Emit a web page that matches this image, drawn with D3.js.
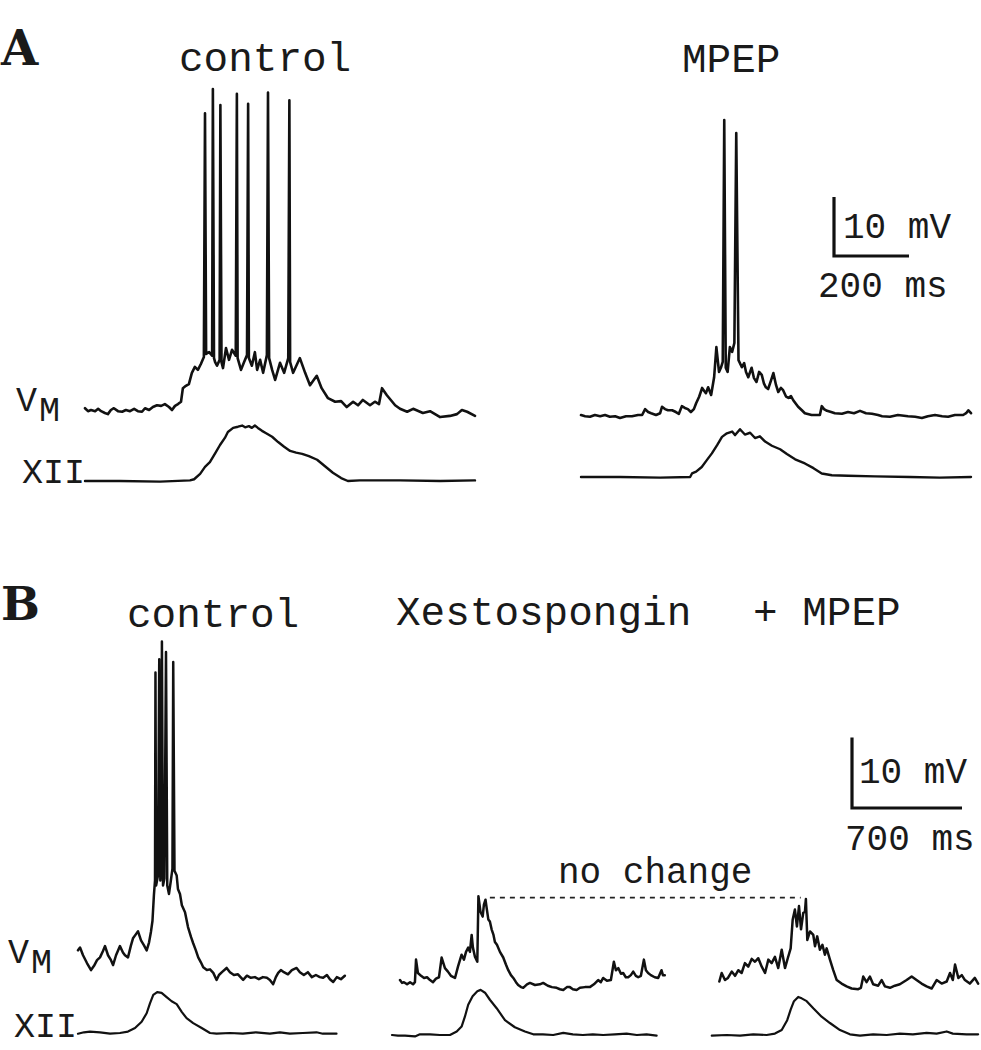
<!DOCTYPE html>
<html><head><meta charset="utf-8">
<script src="https://cdn.jsdelivr.net/npm/d3@7"></script>
<style>
body{margin:0;background:#fff}
svg{display:block}
text{font-family:"Liberation Mono","Courier New",monospace;fill:#1a1a1a}
text.panel{font-family:"DejaVu Serif","Liberation Serif",serif}
</style>
</head><body>
<svg id="c" width="981" height="1050"></svg>
<script>
// ---------- DATA: [time ms, value mV (Vm) or a.u. (XII)] ----------
const aCtrlVm = [[0,0.3],[8,-0.2],[16,0],[27,-0.2],[35,0.2],[43,-0.2],[53,-0.5],[61,-0.7],[69,0],[77,0.3],[88,-0.2],[99,-0.3],[109,0],[120,-0.2],[131,0.2],[141,-0.2],[152,-0.3],[160,0.3],[171,0],[181,0.5],[192,0.8],[203,0.7],[213,1.0],[224,0.5],[232,0],[240,0.7],[248,1.0],[256,1.4],[261,3.7],[269,4.1],[277,4.4],[285,6.3],[293,7.3],[301,6.8],[309,7.8],[317,9.0],[320,50.3],[323,9.5],[331,9.8],[339,9.2],[341,54.4],[344,8.8],[347,8.1],[352,7.5],[359,8.5],[361,51.7],[364,8.1],[368,7.1],[376,10.5],[384,8.5],[392,10.2],[402,9.2],[405,53.6],[407,8.8],[416,6.8],[424,8.1],[432,9.3],[435,51.9],[437,8.8],[445,7.5],[453,9.8],[459,6.8],[467,8.5],[475,6.3],[485,9.3],[488,53.8],[491,8.8],[499,6.8],[507,5.1],[520,8.0],[531,6.3],[542,8.8],[545,52.5],[547,8.1],[555,6.3],[573,8.8],[587,6.3],[600,4.2],[618,5.8],[631,3.7],[648,2.0],[667,1.4],[683,1.5],[698,0.5],[715,1.4],[728,0.8],[741,1.7],[760,0.8],[773,1.4],[784,1.0],[792,3.7],[805,2.5],[827,0.8],[840,0.2],[859,-0.3],[875,0.2],[901,-0.5],[920,-0.2],[947,-1.2],[973,-1.0],[992,-0.7],[1005,0],[1019,-0.3],[1040,-1.0]];
const aCtrlXII = [[0,0],[93,0],[200,-0.1],[280,0.1],[291,0.3],[307,1.2],[320,2.4],[333,3.2],[347,4.7],[360,6.1],[373,7.3],[381,8.3],[395,9.0],[408,9.2],[419,9.4],[427,9.1],[437,9.3],[445,9.0],[453,9.4],[461,9.0],[472,8.5],[483,8.1],[499,7.5],[515,6.6],[531,5.8],[547,5.1],[563,4.8],[579,4.6],[597,4.2],[619,3.6],[640,2.5],[661,1.4],[683,0.5],[701,0],[733,0.1],[840,0.1],[947,0],[1040,0.1]];
const aMpepVm = [[0,0],[11,-0.2],[24,-0.3],[37,0],[51,-0.2],[64,0],[77,-0.3],[91,-0.2],[104,-0.5],[120,-0.2],[136,-0.2],[152,0],[163,0],[171,1.0],[179,0.5],[187,0.3],[200,0],[211,0.3],[216,1.4],[224,1.0],[232,0.8],[243,0.8],[253,0.5],[261,0.2],[269,1.5],[277,1.2],[285,1.0],[293,0.5],[301,1.0],[307,2.0],[315,3.1],[323,4.6],[328,4.1],[333,3.7],[339,4.7],[347,3.4],[355,6.4],[361,11.5],[368,7.3],[373,8.0],[378,9.0],[382,50.0],[386,8.0],[391,7.3],[397,11.5],[403,10.7],[409,12.2],[414,47.8],[420,9.3],[429,8.1],[435,8.8],[440,7.3],[446,6.4],[455,8.0],[461,6.3],[468,5.6],[475,7.3],[482,6.8],[488,5.3],[493,4.7],[499,4.4],[507,5.9],[513,7.1],[520,5.1],[526,3.9],[533,4.6],[539,4.2],[547,3.1],[553,2.9],[560,3.2],[566,2.5],[573,1.9],[579,1.4],[589,0.8],[597,0.3],[615,0],[627,0],[637,0],[642,1.5],[648,1.0],[656,0.7],[667,0.5],[677,0.3],[696,0.2],[712,0.5],[728,0.3],[744,0.7],[760,0.3],[776,0.2],[792,0],[803,-0.2],[824,-0.3],[845,0],[872,-0.2],[891,-0.3],[909,-0.5],[925,-0.2],[944,0],[963,-0.2],[979,-0.3],[997,0],[1019,0],[1027,0.3],[1033,0.8],[1040,0.3]];
const aMpepXII = [[0,0],[104,0],[211,-0.1],[291,0],[296,0.6],[307,0.9],[322,1.7],[336,2.9],[349,4.0],[363,5.4],[376,6.8],[389,7.4],[403,7.7],[411,7.1],[424,8.1],[437,7.2],[451,7.5],[464,6.6],[477,6.9],[491,6.0],[509,5.3],[531,4.7],[549,3.9],[571,3.0],[597,2.3],[620,1.5],[642,0.6],[669,0.3],[712,0.2],[784,0.1],[877,0],[957,-0.1],[1040,0]];

const bCtrlVm = [[0,3.5],[13,3.9],[32,2.8],[57,1.7],[83,0.7],[102,1.3],[121,2.1],[140,2.5],[159,3.4],[172,4.1],[191,2.8],[210,2.1],[223,1.4],[242,2.8],[267,4.1],[286,3.2],[299,2.8],[318,2.5],[337,4.2],[350,5.2],[369,5.8],[382,6.2],[401,4.9],[420,4.2],[437,3.5],[452,4.6],[464,6.1],[474,7.7],[483,11.3],[490,13.4],[493,42.9],[497,12.7],[509,14.1],[517,44.8],[524,13.4],[529,14.8],[534,47.3],[541,12.7],[550,13.7],[560,45.8],[568,12.7],[579,11.5],[591,13.4],[601,15.1],[606,44.4],[614,14.8],[628,14.1],[636,12.2],[649,11.5],[661,9.9],[681,8.9],[700,6.8],[719,5.4],[733,4.5],[750,3.5],[765,2.5],[782,1.8],[797,1.1],[820,0.7],[840,0.8],[861,0.3],[882,-0.7],[897,0],[916,0.4],[946,1.0],[967,0.4],[992,0],[1018,0.1],[1051,-0.7],[1075,-0.1],[1100,-0.4],[1126,-0.3],[1151,-0.6],[1177,-0.3],[1202,-0.4],[1221,-0.7],[1242,-1.3],[1259,-0.3],[1274,0.3],[1291,0.7],[1310,0.4],[1336,0.1],[1361,0.7],[1391,1.0],[1412,0.4],[1437,0],[1463,0.4],[1488,-0.3],[1514,0],[1539,-0.3],[1560,-0.4],[1584,0],[1603,-0.6],[1624,-1.0],[1647,-0.3],[1673,-0.6],[1698,-0.1]];
const bCtrlXII = [[0,-0.1],[38,0.1],[76,0.2],[140,0.1],[204,-0.1],[267,0],[318,0.2],[363,0.7],[405,1.6],[437,2.8],[458,4.2],[479,5.4],[504,5.8],[532,5.7],[564,5.1],[596,4.5],[628,4.1],[660,3.0],[691,2.1],[733,1.4],[787,0.7],[840,0],[882,-0.1],[967,0],[1049,-0.1],[1132,0.1],[1221,-0.1],[1285,0.1],[1348,-0.1],[1431,0],[1518,0.1],[1558,-0.1],[1645,-0.1]];
const bXestoVm = [[0,0.7],[13,0.3],[25,0.4],[45,0.1],[64,0.4],[83,0.1],[95,0.4],[102,3.6],[114,1.7],[134,1.3],[153,1.0],[172,1.1],[191,0.7],[210,0.4],[229,0.9],[248,1.1],[265,3.9],[286,2.4],[305,1.9],[324,1.3],[350,1.0],[369,2.6],[392,4.3],[407,3.6],[420,4.7],[434,5.3],[445,4.7],[456,7.1],[464,5.3],[477,4.0],[492,3.3],[499,12.6],[512,10.4],[526,9.7],[534,11.4],[544,12.1],[553,10.7],[562,9.3],[572,9.0],[583,7.9],[595,7.1],[604,6.1],[617,5.7],[636,4.7],[657,3.9],[674,2.9],[689,2.1],[706,1.4],[721,1.0],[738,0.4],[752,0],[770,-0.3],[784,-0.4],[808,0.1],[827,0.3],[859,0],[890,0.1],[911,0.3],[941,-0.1],[967,-0.3],[997,-0.4],[1018,-0.6],[1039,-0.7],[1062,-0.3],[1081,-0.3],[1100,-0.6],[1124,-0.7],[1145,-0.4],[1177,-0.3],[1208,-0.3],[1234,0.1],[1261,0.7],[1278,0.4],[1293,1.0],[1317,0.6],[1342,0.7],[1361,3.3],[1374,2.1],[1389,2.4],[1406,1.6],[1420,1.7],[1437,1.1],[1452,1.1],[1469,1.4],[1484,1.9],[1501,1.3],[1516,1.1],[1533,1.3],[1552,3.6],[1565,2.1],[1579,1.7],[1596,1.4],[1621,1.1],[1643,1.0],[1664,2.1],[1673,1.4],[1685,1.4]];
const bXestoXII = [[-51,0],[-13,-0.1],[32,-0.1],[95,-0.2],[127,0.1],[191,0.1],[254,0],[318,0],[361,0.5],[392,1.2],[413,2.6],[434,4.3],[462,5.5],[492,6.2],[513,6.4],[541,6.0],[572,5.0],[615,3.8],[668,2.1],[731,1.1],[795,0.5],[848,0.1],[909,0.1],[975,0],[1039,0.3],[1100,0.1],[1164,0],[1227,0.1],[1293,0],[1367,0.1],[1442,0.2],[1507,0],[1569,0.1],[1633,-0.1]];
const bMpepVm = [[2,0.5],[17,1.7],[38,0.7],[57,1.0],[81,1.9],[102,1.3],[123,2.1],[144,1.7],[165,3.1],[186,2.6],[208,3.7],[229,3.3],[250,3.8],[272,2.6],[293,1.7],[314,3.6],[335,3.1],[356,4.0],[377,2.4],[399,5.0],[420,2.4],[439,3.9],[456,5.2],[469,9.3],[483,10.7],[496,8.3],[509,11.2],[522,7.9],[536,10.2],[547,10.4],[553,12.2],[562,6.4],[579,7.6],[600,7.1],[611,5.5],[625,6.9],[642,5.0],[658,5.7],[674,4.3],[685,5.2],[706,3.6],[727,2.1],[749,0.7],[780,0.2],[812,-0.2],[844,-0.5],[886,-0.6],[903,-0.4],[918,1.2],[939,0.4],[960,1.2],[981,0.1],[1013,-0.1],[1035,0.7],[1056,-0.2],[1088,-0.4],[1119,-0.1],[1151,0.1],[1194,0.7],[1226,1.2],[1257,0.7],[1289,0.2],[1321,-0.2],[1353,-0.5],[1385,0.7],[1417,0.2],[1449,0.5],[1470,1.7],[1488,0.7],[1502,2.9],[1523,1.0],[1545,1.4],[1565,0.7],[1596,0.2],[1628,1.0],[1649,0.2]];
const bMpepXII = [[-46,-0.1],[49,0],[134,-0.1],[218,0.1],[303,0],[356,0.2],[399,0.7],[434,2.1],[456,3.6],[477,4.8],[504,5.4],[526,5.2],[558,4.8],[600,3.8],[653,2.6],[706,1.7],[770,0.7],[833,0.1],[897,-0.1],[981,0.1],[1067,0],[1151,0.2],[1234,0.1],[1321,0.3],[1385,0.2],[1449,0.5],[1488,0.2],[1575,0.1],[1649,0.1]];

const titlesA = ["control", "MPEP"];
const titlesB = ["control", "Xestospongin", "+ MPEP"];
const scaleA = {mv: 10, ms: 200, mvLabel: "10 mV", msLabel: "200 ms"};
const scaleB = {mv: 10, ms: 700, mvLabel: "10 mV", msLabel: "700 ms"};
const noChange = {label: "no change", level: 12.4, tLeft: 572, tRight: 520};

// ---------- DRAWING ----------
const svg = d3.select("#c");
const INK = "#111";

function scales(x0, yBase, sb, pxMs, pxMv) {
  const x = d3.scaleLinear().domain([0, sb.ms]).range([x0, x0 + pxMs]);
  const y = d3.scaleLinear().domain([0, sb.mv]).range([yBase, yBase - pxMv]);
  return {x, y};
}
function trace(data, s, w) {
  const line = d3.line().x(d => s.x(d[0])).y(d => s.y(d[1]));
  svg.append("path").datum(data).attr("d", line)
    .attr("fill", "none").attr("stroke", INK).attr("stroke-width", w)
    .attr("stroke-linejoin", "round").attr("stroke-linecap", "round");
}
function scaleBar(s, sb, w) {
  const pts = [[0, sb.mv], [0, 0], [sb.ms, 0]];
  svg.append("path").datum(pts)
    .attr("d", d3.line().x(d => s.x(d[0])).y(d => s.y(d[1])))
    .attr("fill", "none").attr("stroke", INK).attr("stroke-width", w);
}
function txt(x, y, t, size, weight, cls) {
  return svg.append("text").attr("x", x).attr("y", y).attr("font-size", size)
    .attr("font-weight", weight || "normal").attr("class", cls || null).text(t);
}

// Panel A (200 ms = 75 px, 10 mV = 59 px)
const A_MS = 75, A_MV = 59;
trace(aCtrlVm, scales(85, 410, scaleA, A_MS, A_MV), 2.6);
trace(aCtrlXII, scales(85, 481, scaleA, A_MS, A_MV), 2.4);
trace(aMpepVm, scales(581, 415, scaleA, A_MS, A_MV), 2.6);
trace(aMpepXII, scales(581, 477, scaleA, A_MS, A_MV), 2.4);
scaleBar(scales(834, 256, scaleA, A_MS, A_MV), scaleA, 3.2);

// Panel B (700 ms = 110 px, 10 mV = 70.5 px)
const B_MS = 110, B_MV = 70.5;
trace(bCtrlVm, scales(78, 975, scaleB, B_MS, B_MV), 2.5);
trace(bCtrlXII, scales(78, 1033, scaleB, B_MS, B_MV), 2.2);
const sXL = scales(400, 985, scaleB, B_MS, B_MV);
const sXR = scales(719, 985, scaleB, B_MS, B_MV);
trace(bXestoVm, sXL, 2.5);
trace(bXestoXII, scales(400, 1035, scaleB, B_MS, B_MV), 2.2);
trace(bMpepVm, sXR, 2.5);
trace(bMpepXII, scales(719, 1035, scaleB, B_MS, B_MV), 2.2);
scaleBar(scales(852, 808, scaleB, B_MS, B_MV), scaleB, 3.2);

// "no change" dashed line
svg.append("line")
  .attr("x1", sXL.x(noChange.tLeft)).attr("x2", sXR.x(noChange.tRight))
  .attr("y1", sXL.y(noChange.level)).attr("y2", sXL.y(noChange.level))
  .attr("stroke", "#222").attr("stroke-width", 1.6).attr("stroke-dasharray", "5,5");

// Text
txt(1, 65, "A", 48, "bold", "panel");
txt(1, 620, "B", 46, "bold", "panel");
txt(179, 71, titlesA[0], 41);
txt(682, 72, titlesA[1], 41);
txt(127, 627, titlesB[0], 41);
txt(396, 625, titlesB[1], 41);
txt(753, 625, titlesB[2], 41);
txt(843, 238, scaleA.mvLabel, 36);
txt(818, 297, scaleA.msLabel, 36);
txt(859, 783, scaleB.mvLabel, 36);
txt(845, 850, scaleB.msLabel, 36);
txt(558, 883, noChange.label, 36);
// trace labels
txt(16, 411, "V", 35); txt(39, 421, "M", 35);
txt(22, 483, "XII", 35);
txt(8, 963, "V", 35); txt(31, 973, "M", 35);
txt(14, 1037, "XII", 35);
</script>
</body></html>
